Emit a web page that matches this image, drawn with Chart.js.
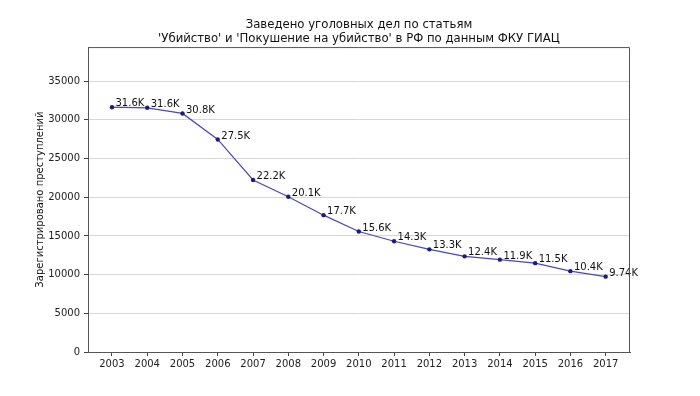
<!DOCTYPE html>
<html>
<head>
<meta charset="utf-8">
<script src="https://cdn.jsdelivr.net/npm/chart.js@4/dist/chart.umd.min.js"></script>
<style>
  html, body { margin: 0; padding: 0; background: #fff; }
  canvas { display: block; }
</style>
</head>
<body>
<canvas id="crimes-chart" width="700" height="396"></canvas>
<script>
// Data
const years = [2003, 2004, 2005, 2006, 2007, 2008, 2009, 2010, 2011, 2012, 2013, 2014, 2015, 2016, 2017];
const cases = [31630, 31553, 30827, 27462, 22227, 20056, 17681, 15563, 14305, 13265, 12361, 11934, 11483, 10444, 9738];
const yTicks = [0, 5000, 10000, 15000, 20000, 25000, 30000, 35000];
const titleLines = [
  "Заведено уголовных дел по статьям",
  "'Убийство' и 'Покушение на убийство' в РФ по данным ФКУ ГИАЦ",
];
const yTitle = "Зарегистрировано преступлений";

const FONT = "'DejaVu Sans', sans-serif";

// draws the top and right spines, like matplotlib
const framePlugin = {
  id: "frame",
  afterDraw(chart) {
    const { ctx, chartArea: a } = chart;
    ctx.save();
    ctx.strokeStyle = "#555";
    ctx.lineWidth = 1;
    ctx.beginPath();
    ctx.moveTo(a.left, a.top + 0.5);
    ctx.lineTo(a.right - 0.5, a.top + 0.5);
    ctx.lineTo(a.right - 0.5, a.bottom);
    ctx.stroke();
    ctx.restore();
  },
};

// value labels next to each point ("31.6K")
const labelPlugin = {
  id: "pointLabels",
  afterDatasetsDraw(chart) {
    const { ctx } = chart;
    const meta = chart.getDatasetMeta(0);
    ctx.save();
    ctx.font = "10px " + FONT;
    ctx.fillStyle = "#111";
    ctx.textAlign = "left";
    ctx.textBaseline = "middle";
    meta.data.forEach((pt, i) => {
      const text = (cases[i] / 1000).toPrecision(3) + "K";
      ctx.fillText(text, pt.x + 3.5, pt.y - 3.5);
    });
    ctx.restore();
  },
};

new Chart(document.getElementById("crimes-chart"), {
  type: "line",
  data: {
    datasets: [
      {
        data: years.map((y, i) => ({ x: y, y: cases[i] })),
        borderColor: "#4646cc",
        borderWidth: 1.2,
        tension: 0,
        pointRadius: 2.2,
        pointBackgroundColor: "#1a1a8a",
        pointBorderWidth: 0,
      },
    ],
  },
  options: {
    responsive: false,
    animation: false,
    devicePixelRatio: 1,
    layout: { padding: { left: 0, right: 70, top: 0, bottom: 0 } },
    plugins: {
      legend: { display: false },
      tooltip: { enabled: false },
      title: {
        display: true,
        text: titleLines,
        fullSize: false,
        color: "#111",
        font: { family: FONT, size: 11.7, weight: "normal", lineHeight: 1.2 },
        padding: { top: 18, bottom: 1 },
      },
    },
    scales: {
      x: {
        type: "linear",
        min: 2002.32,
        max: 2017.69,
        afterBuildTicks: (scale) => {
          scale.ticks = years.map((v) => ({ value: v }));
        },
        afterFit: (scale) => {
          scale.height = 44;
        },
        ticks: {
          color: "#222",
          font: { family: FONT, size: 10 },
          padding: 2,
          maxRotation: 0,
          autoSkip: false,
          callback: (value) => String(value),
        },
        grid: {
          drawOnChartArea: false,
          tickLength: 4,
          tickColor: "#444",
        },
        border: { color: "#555", width: 1 },
      },
      y: {
        min: 0,
        max: 39400,
        afterBuildTicks: (scale) => {
          scale.ticks = yTicks.map((v) => ({ value: v }));
        },
        afterFit: (scale) => {
          scale.width = 88;
        },
        ticks: {
          color: "#222",
          font: { family: FONT, size: 10 },
          padding: 4,
          callback: (value) => String(value),
        },
        grid: {
          color: "#d6d6d6",
          lineWidth: 1,
          tickLength: 4,
          tickColor: "#444",
        },
        border: { color: "#555", width: 1 },
        title: {
          display: true,
          text: yTitle,
          color: "#111",
          font: { family: FONT, size: 10 },
          padding: { top: 34, bottom: 0 },
        },
      },
    },
  },
  plugins: [framePlugin, labelPlugin],
});
</script>
</body>
</html>
